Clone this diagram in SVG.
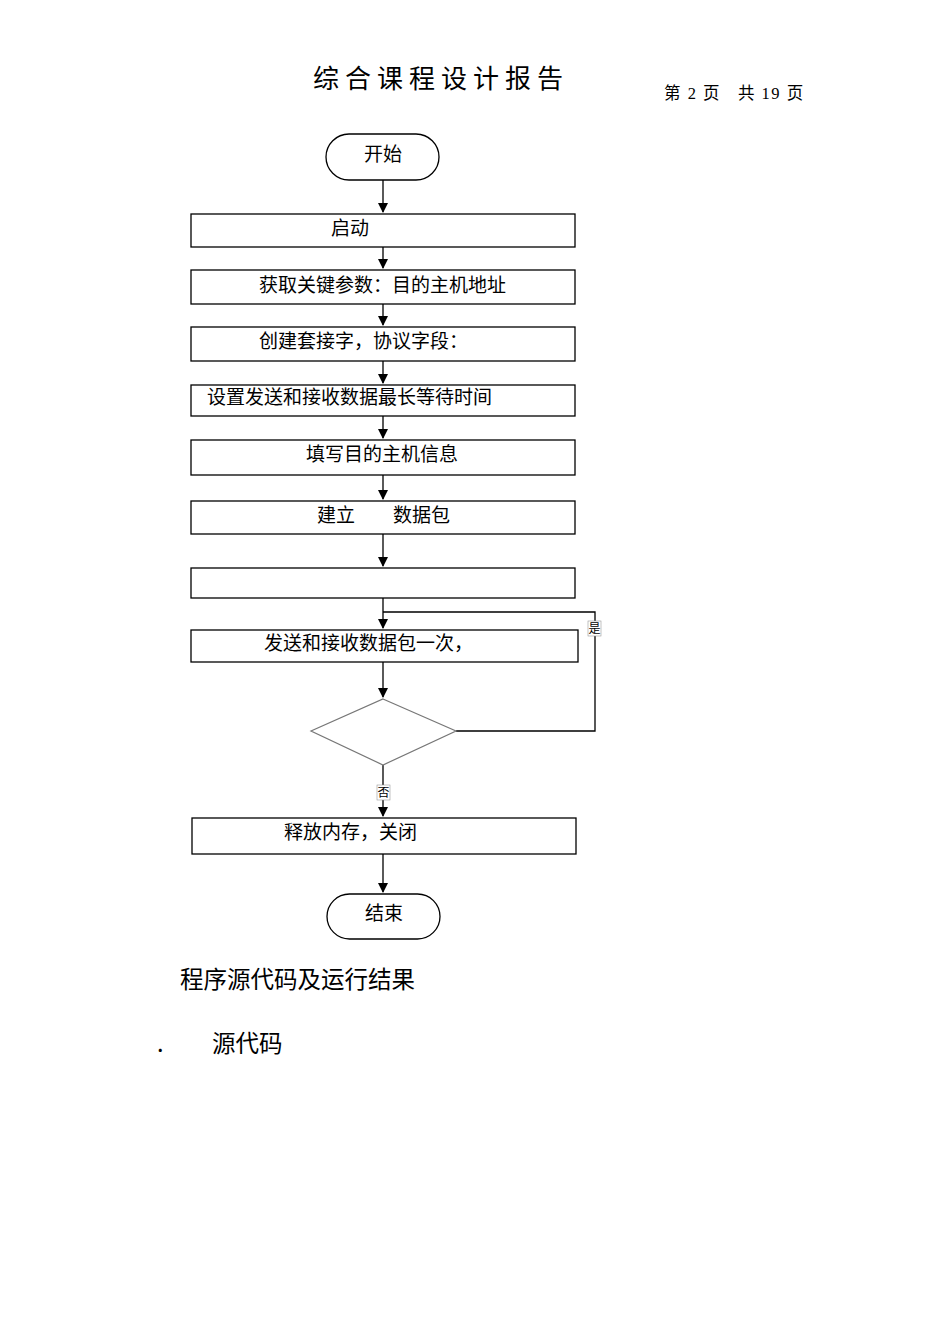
<svg xmlns="http://www.w3.org/2000/svg" width="950" height="1344" viewBox="0 0 950 1344">
<style>
.b{fill:#fff;stroke:#000;stroke-width:1.3}
.t{font-family:"Liberation Serif","Noto Sans CJK SC",serif;font-size:19px;fill:#000}
.l{stroke:#000;stroke-width:1.3;fill:none}
.h{font-family:"Noto Sans CJK SC",sans-serif;font-size:23.5px;fill:#000}
.s{font-family:"Liberation Serif","Noto Sans CJK SC",serif;font-size:12px;fill:#000}
</style>
<defs><marker id="a" markerWidth="10" markerHeight="10" refX="9" refY="5" orient="auto" markerUnits="userSpaceOnUse"><path d="M0,0L10,5L0,10z" fill="#000"/></marker></defs>
<rect width="950" height="1344" fill="#fff"/>
<text x="313" y="88" style="font-family:'Liberation Serif','Noto Sans CJK SC',serif;font-size:26px;letter-spacing:6px">综合课程设计报告</text>
<text x="664" y="99" style="font-family:'Liberation Serif','Noto Sans CJK SC',serif;font-size:16.5px;white-space:pre;letter-spacing:1.5px">第 2 页   共 19 页</text>
<g id="connectors">
<path class="l" d="M383,180V212" marker-end="url(#a)"/>
<path class="l" d="M383,247V268" marker-end="url(#a)"/>
<path class="l" d="M383,304V325" marker-end="url(#a)"/>
<path class="l" d="M383,361V383" marker-end="url(#a)"/>
<path class="l" d="M383,416V438" marker-end="url(#a)"/>
<path class="l" d="M383,475V499" marker-end="url(#a)"/>
<path class="l" d="M383,534V566" marker-end="url(#a)"/>
<path class="l" d="M383,598V628" marker-end="url(#a)"/>
<path class="l" d="M383,662V697" marker-end="url(#a)"/>
<path class="l" d="M456,731H595V612H383"/>
<path class="l" d="M383,765V816" marker-end="url(#a)"/>
<path class="l" d="M383,854V892" marker-end="url(#a)"/>
<rect x="588" y="621" width="13" height="15" fill="#fff" stroke="#999" stroke-width="0.6"/>
<text x="588.5" y="633" class="s">是</text>
<rect x="377" y="785" width="13" height="15" fill="#fff" stroke="#999" stroke-width="0.6"/>
<text x="377.5" y="797" class="s">否</text>
</g>
<g id="start"><rect class="b" x="326" y="134" width="113" height="46" rx="23"/><text class="t" x="364" y="161">开始</text></g>
<g id="n1"><rect class="b" x="191" y="214" width="384" height="33"/><text class="t" x="331" y="235">启动</text></g>
<g id="n2"><rect class="b" x="191" y="270" width="384" height="34"/><text class="t" x="259" y="292">获取关键参数：目的主机地址</text></g>
<g id="n3"><rect class="b" x="191" y="327" width="384" height="34"/><text class="t" x="259" y="348">创建套接字，协议字段：</text></g>
<g id="n4"><rect class="b" x="191" y="385" width="384" height="31"/><text class="t" x="207" y="404">设置发送和接收数据最长等待时间</text></g>
<g id="n5"><rect class="b" x="191" y="440" width="384" height="35"/><text class="t" x="306" y="461">填写目的主机信息</text></g>
<g id="n6"><rect class="b" x="191" y="501" width="384" height="33"/><text class="t" x="317" y="522">建立</text><text class="t" x="393" y="522">数据包</text></g>
<g id="n7"><rect class="b" x="191" y="568" width="384" height="30"/></g>
<g id="n8"><rect class="b" x="191" y="630" width="387" height="32"/><text class="t" x="264" y="650">发送和接收数据包一次，</text></g>
<g id="d"><path d="M383,699L456,731L383,765L311,731z" fill="#fff" stroke="#777" stroke-width="1.2"/></g>
<g id="n9"><rect class="b" x="192" y="818" width="384" height="36"/><text class="t" x="284" y="839">释放内存，关闭</text></g>
<g id="end"><rect class="b" x="327" y="894" width="113" height="45" rx="22.5"/><text class="t" x="365" y="920">结束</text></g>
<text x="180" y="988" class="h">程序源代码及运行结果</text>
<text x="157" y="1052" class="h">.</text>
<text x="212" y="1052" class="h">源代码</text>
</svg>
